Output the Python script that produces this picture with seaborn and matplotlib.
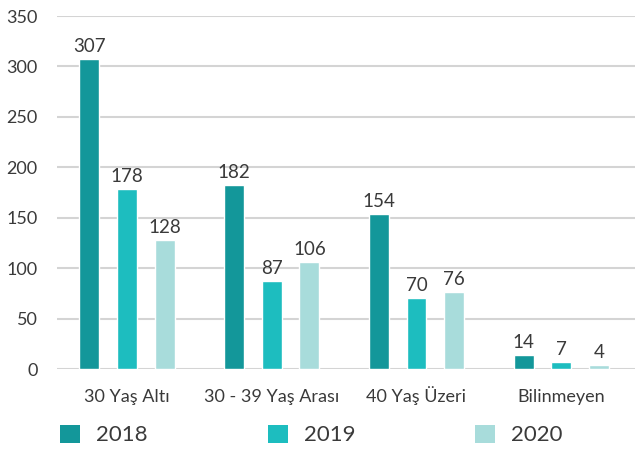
import matplotlib
matplotlib.use("Agg")
import matplotlib.pyplot as plt
from matplotlib.patches import Patch
import pandas as pd
import seaborn as sns

categories = ["30 Yaş Altı", "30 - 39 Yaş Arası", "40 Yaş Üzeri", "Bilinmeyen"]
years = ["2018", "2019", "2020"]
values_2018 = [307, 182, 154, 14]
values_2019 = [178, 87, 70, 7]
values_2020 = [128, 106, 76, 4]
y_ticks = [0, 50, 100, 150, 200, 250, 300, 350]
colors = ["#13979a", "#1dbdbf", "#a8dcdb"]

rows = []
for year, vals in zip(years, [values_2018, values_2019, values_2020]):
    for cat, v in zip(categories, vals):
        rows.append({"Kategori": cat, "Yıl": year, "Değer": v})
df = pd.DataFrame(rows)

sns.set_theme(style="white")
plt.rcParams["font.family"] = ["Lato", "DejaVu Sans"]
text_color = "#3a3a3a"

fig = plt.figure(figsize=(6.35, 4.5), dpi=100)
ax = fig.add_axes([0.0898, 0.18, 0.9102, 0.7844])

sns.barplot(data=df, x="Kategori", y="Değer", hue="Yıl", order=categories,
            hue_order=years, palette=colors, width=0.78, gap=0.47,
            saturation=1, legend=False, ax=ax, errorbar=None)

for cont in ax.containers:
    ax.bar_label(cont, padding=3, fontsize=13.5, color=text_color)

ax.set_ylim(0, 350)
ax.set_xlim(-0.484, 3.51)
ax.set_yticks(y_ticks)
ax.yaxis.grid(True, color="#d4d4d4", linewidth=1.5)
ax.set_axisbelow(True)
for s in ax.spines.values():
    s.set_visible(False)
ax.tick_params(axis="y", length=0, pad=14, labelsize=13, labelcolor=text_color)
ax.tick_params(axis="x", length=0, pad=23.5, labelsize=13, labelcolor=text_color)
for lbl in ax.get_xticklabels():
    lbl.set_verticalalignment("baseline")
ax.set_xlabel("")
ax.set_ylabel("")

handles = [Patch(facecolor=c, edgecolor="none") for c in colors]
fig.legend(handles, years, loc="center left", bbox_to_anchor=(0.0806, 0.0333),
           ncol=3, frameon=False, fontsize=16, labelcolor=text_color,
           handlelength=0.9, handleheight=0.9, handletextpad=0.72,
           columnspacing=5.4, borderaxespad=0.0)

fig.savefig("out.png", dpi=100)
